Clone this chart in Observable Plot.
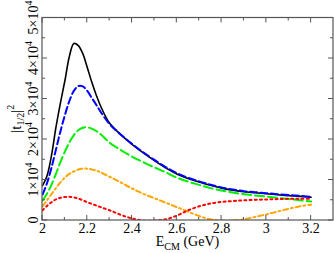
<!DOCTYPE html>
<html><head><meta charset="utf-8">
<script src="https://cdn.jsdelivr.net/npm/d3@7"></script>
<script src="https://cdn.jsdelivr.net/npm/@observablehq/plot@0.6"></script>
<style>body{margin:0;background:#fff;overflow:hidden}</style>
</head><body><div id="chart"></div>
<script>
// E_CM (GeV) sample points
const energy = [2.00,2.02,2.04,2.06,2.08,2.10,2.12,2.14,2.16,2.18,2.20,2.22,2.24,2.26,2.30,2.35,2.40,2.45,2.50,2.55,2.60,2.65,2.70,2.75,2.80,2.85,2.90,2.95,3.00,3.05,3.10,3.15,3.20];
// |t_1/2|^2 in units of 1e4
const blackSolid = [0.86,1.10,1.60,2.30,2.90,3.45,4.05,4.37,4.32,4.12,3.78,3.42,3.10,2.82,2.40,2.12,1.88,1.67,1.48,1.30,1.15,1.04,0.95,0.87,0.80,0.75,0.71,0.685,0.66,0.635,0.615,0.595,0.575];
const blueDashed = [0.64,0.92,1.30,1.75,2.20,2.60,2.95,3.20,3.32,3.31,3.20,3.03,2.86,2.68,2.38,2.12,1.89,1.685,1.495,1.32,1.17,1.055,0.965,0.885,0.815,0.765,0.725,0.70,0.675,0.65,0.628,0.607,0.585];
const greenDashed = [0.49,0.66,0.88,1.15,1.44,1.70,1.93,2.11,2.23,2.29,2.30,2.27,2.21,2.13,1.92,1.74,1.58,1.44,1.31,1.19,1.06,0.96,0.88,0.80,0.74,0.69,0.65,0.62,0.59,0.56,0.53,0.50,0.47];
const orangeDashDot = [0.35,0.50,0.65,0.80,0.94,1.06,1.15,1.21,1.26,1.28,1.28,1.26,1.23,1.19,1.08,0.94,0.79,0.66,0.55,0.44,0.33,0.22,0.11,0.03,0.0,0.0,0.03,0.09,0.15,0.22,0.29,0.35,0.39];
const redDotted = [0.25,0.36,0.45,0.52,0.56,0.58,0.585,0.57,0.54,0.50,0.45,0.41,0.37,0.33,0.25,0.14,0.05,0.0,0.0,0.03,0.12,0.25,0.35,0.42,0.46,0.48,0.50,0.51,0.52,0.528,0.535,0.535,0.535];

const xMajor = [2,2.2,2.4,2.6,2.8,3,3.2];
const xMinor = [2.1,2.3,2.5,2.7,2.9,3.1,3.3];
const yMajor = [0,1e4,2e4,3e4,4e4,5e4];
const yMinor = [5e3,1.5e4,2.5e4,3.5e4,4.5e4];
const yTickLabels = ["0","1","2","3","4","5"];

const series = [
  {name:"black", values: blackSolid, stroke:"#000000", width:1.6, dash:null},
  {name:"blue", values: blueDashed, stroke:"#0000ff", width:2, dash:"7,3.5"},
  {name:"green", values: greenDashed, stroke:"#00ee00", width:2, dash:"9,4"},
  {name:"orange", values: orangeDashDot, stroke:"#ffa500", width:2, dash:"5,3,1.8,3"},
  {name:"red", values: redDotted, stroke:"#ff0000", width:2, dash:"2,3.2"}
];
const rows = series.flatMap(s => energy.map((e,i) => ({series:s.name, e, v: s.values[i]*1e4})));

const font = "'Liberation Serif', 'Times New Roman', serif";
const frameColor = "#555";

const chart = Plot.plot({
  width: 334, height: 253,
  marginLeft: 42, marginRight: 1, marginTop: 17.5, marginBottom: 33,
  x: {domain: [2, 3.3], axis: null},
  y: {domain: [0, 5e4], axis: null},
  style: {fontFamily: font, background: "#fff"},
  marks: [
    ...series.map(s => Plot.line(rows.filter(r => r.series === s.name), {
      x: "e", y: "v", stroke: s.stroke, strokeWidth: s.width,
      strokeDasharray: s.dash, curve: "catmull-rom", clip: true
    })),
    Plot.axisX(xMajor, {tickSize: 0, tickPadding: 3, fontSize: 14, fill: "#000", tickFormat: d => String(d), label: null}),
    (index, {x, y}, values, dim) => {
      const g = d3.create("svg:g");
      const L = dim.marginLeft, R = dim.width - dim.marginRight;
      const T = dim.marginTop, B = dim.height - dim.marginBottom;
      g.append("rect").attr("x", L).attr("y", T).attr("width", R - L).attr("height", B - T)
        .attr("fill", "none").attr("stroke", frameColor).attr("stroke-width", 1.2);
      let d = "";
      xMajor.forEach(v => { const p = x(v); d += `M${p},${B}v-5M${p},${T}v5`; });
      xMinor.forEach(v => { const p = x(v); if (p < R - 0.5) d += `M${p},${B}v-3M${p},${T}v3`; });
      yMajor.forEach(v => { const p = y(v); d += `M${L},${p}h5M${R},${p}h-5`; });
      yMinor.forEach(v => { const p = y(v); d += `M${L},${p}h3M${R},${p}h-3`; });
      g.append("path").attr("d", d).attr("stroke", frameColor).attr("stroke-width", 1).attr("fill", "none");
      // y tick labels (rotated)
      yMajor.forEach((v, i) => {
        const t = g.append("text").attr("transform", `translate(${L - 4},${y(v)}) rotate(-90)`)
          .attr("text-anchor", "middle").attr("font-size", 14).attr("font-family", font).attr("fill", "#000");
        if (v === 0) { t.text("0"); }
        else {
          t.append("tspan").text(yTickLabels[i] + "×10");
          t.append("tspan").attr("dy", -6).attr("font-size", 10).text("4");
        }
      });
      // y axis label
      const yl = g.append("text").attr("transform", `translate(21,${(T + B) / 2}) rotate(-90)`)
        .attr("text-anchor", "middle").attr("font-size", 15).attr("font-family", font).attr("fill", "#000");
      yl.append("tspan").text("|t");
      yl.append("tspan").attr("dy", 3).attr("font-size", 10).text("1/2");
      yl.append("tspan").attr("dy", -3).text("|");
      yl.append("tspan").attr("dy", -7).attr("font-size", 10).text("2");
      // x axis label
      const xl = g.append("text").attr("x", (L + R) / 2).attr("y", 246)
        .attr("text-anchor", "middle").attr("font-size", 14).attr("font-family", font).attr("fill", "#000");
      xl.append("tspan").text("E");
      xl.append("tspan").attr("dy", 3.5).attr("font-size", 10).text("CM");
      xl.append("tspan").attr("dy", -3.5).text(" (GeV)");
      return g.node();
    }
  ]
});
document.getElementById("chart").appendChild(chart);
</script>
</body></html>
